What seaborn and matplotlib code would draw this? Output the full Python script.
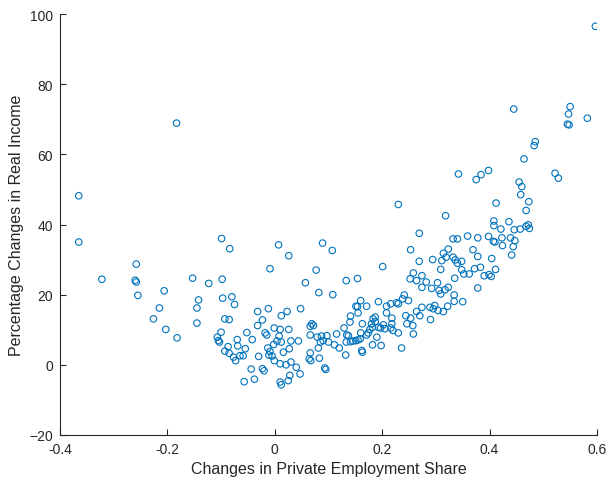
import numpy as np
import pandas as pd
import matplotlib
matplotlib.use("Agg")
import matplotlib.pyplot as plt
import seaborn as sns

# ============================================================
# DATA
# ============================================================

emp_share = [
    -0.365, -0.365, -0.322, -0.258, -0.260, -0.258, -0.255, -0.206, -0.153, -0.123,
    -0.099, -0.084, -0.098, -0.142, -0.097, -0.080, -0.075, -0.215, -0.145, -0.226,
    -0.145, -0.203, -0.182, -0.093, -0.085, -0.100, -0.107, -0.105, -0.103, -0.032,
    -0.032, -0.052, -0.070, -0.042, -0.069, -0.055, -0.087, -0.093, -0.085, -0.077,
    -0.073, -0.065, -0.059, -0.030, -0.044, -0.038, -0.057, -0.183,
    -0.023, -0.023, -0.020, -0.018, -0.015, -0.001, 0.010, 0.026, 0.008, 0.004,
    0.012, -0.002, -0.013, -0.009, -0.011, -0.005, -0.001, 0.016, 0.027, 0.030,
    0.044, 0.010, 0.021, 0.030, 0.040, 0.047, 0.028, 0.025, 0.010, 0.012,
    -0.012, 0.023, 0.048, 0.012, 0.007, 0.026, 0.089, 0.107, -0.009, 0.077,
    0.057, 0.082, 0.108, 0.069, 0.072, 0.066, 0.066, 0.079, 0.087, 0.097,
    0.090, 0.100, 0.085, 0.115, 0.111, 0.120, 0.081, 0.066, 0.067, 0.064,
    0.083, 0.093, 0.095,
    0.269, 0.253, 0.269, 0.294, 0.311, 0.319, 0.314, 0.323, 0.309, 0.201,
    0.133, 0.154, 0.258, 0.252, 0.264, 0.274, 0.282, 0.274, 0.292, 0.303,
    0.306, 0.309, 0.317, 0.323, 0.160, 0.151, 0.154, 0.171, 0.193, 0.208,
    0.216, 0.227, 0.230, 0.238, 0.241, 0.249, 0.264, 0.274, 0.289, 0.298,
    0.295, 0.304, 0.322, 0.270, 0.314, 0.141, 0.155, 0.208, 0.218, 0.244,
    0.253, 0.140, 0.163, 0.129, 0.132, 0.134, 0.137, 0.133, 0.141, 0.146,
    0.151, 0.155, 0.159, 0.160, 0.171, 0.174, 0.177, 0.182, 0.180, 0.187,
    0.183, 0.187, 0.193, 0.197, 0.202, 0.205, 0.190, 0.182, 0.198, 0.162,
    0.163, 0.218, 0.216, 0.220, 0.230, 0.246, 0.257, 0.258, 0.236, 0.290,
    0.485, 0.483, 0.464, 0.522, 0.528, 0.342, 0.384, 0.375, 0.398, 0.455,
    0.460, 0.458, 0.473, 0.468, 0.412, 0.318, 0.408, 0.408, 0.436, 0.421,
    0.446, 0.457, 0.468, 0.472, 0.474, 0.332, 0.340, 0.359, 0.378, 0.398,
    0.423, 0.439, 0.407, 0.410, 0.424, 0.447, 0.444, 0.441, 0.369, 0.378,
    0.404, 0.332, 0.336, 0.340, 0.348, 0.348, 0.352, 0.362, 0.372, 0.383,
    0.390, 0.399, 0.403, 0.411, 0.335, 0.378, 0.334, 0.334, 0.350, 0.230,
    0.597, 0.445, 0.550, 0.547, 0.582, 0.545, 0.548,
]

real_income = [
    48.2, 35.0, 24.4, 28.7, 24.1, 23.6, 19.8, 21.1, 24.7, 23.2,
    36.0, 33.1, 24.4, 18.5, 19.0, 19.4, 17.2, 16.2, 16.2, 13.1,
    11.9, 10.1, 7.7, 13.1, 12.9, 9.3, 7.9, 6.9, 6.5, 15.2,
    11.2, 9.2, 7.2, 7.2, 5.4, 4.6, 5.2, 3.9, 3.3, 2.2,
    1.2, 2.6, 2.6, 2.4, -1.2, -4.1, -4.8, 68.9,
    12.8, -1.1, -1.7, 9.1, 8.5, 10.5, 10.1, 10.1, 8.2, 6.8,
    6.5, 5.8, 4.8, 3.8, 2.8, 2.5, 1.2, 3.6, 4.6, 6.8,
    6.8, 0.3, 0.0, 0.8, -0.7, -2.6, -3.0, -4.5, -4.9, -5.7,
    16.0, 15.2, 16.0, 14.0, 34.2, 31.1, 34.7, 32.6, 27.4, 27.0,
    23.4, 20.6, 20.0, 11.7, 11.2, 11.0, 8.5, 7.9, 8.2, 8.3,
    6.9, 6.5, 6.5, 8.8, 5.7, 4.8, 4.8, 3.4, 1.2, 1.7,
    1.9, -0.9, -1.3,
    37.5, 32.8, 29.5, 30.0, 29.7, 30.7, 31.8, 33.0, 27.2, 28.0,
    24.0, 24.6, 26.2, 24.5, 24.0, 25.4, 23.6, 22.1, 21.8, 23.4,
    21.2, 20.2, 21.4, 22.1, 18.3, 16.7, 16.6, 16.7, 18.0, 16.7,
    17.4, 17.7, 17.4, 18.8, 19.9, 18.3, 15.2, 16.4, 16.4, 16.9,
    16.0, 15.5, 16.7, 14.0, 15.2, 13.9, 14.8, 14.8, 13.3, 14.0,
    13.3, 12.2, 11.7, 10.5, 2.8, 8.5, 8.3, 6.5, 6.6, 6.8,
    6.9, 7.1, 7.4, 9.1, 8.5, 9.1, 10.1, 10.7, 11.7, 12.3,
    13.1, 13.6, 10.7, 10.5, 11.4, 10.3, 7.9, 5.7, 5.5, 4.1,
    3.6, 11.7, 10.5, 9.8, 9.1, 11.7, 11.2, 8.8, 4.8, 12.9,
    63.6, 62.5, 58.7, 54.6, 53.2, 54.4, 54.2, 52.8, 55.4, 52.1,
    50.8, 48.5, 46.5, 44.0, 46.1, 42.5, 41.0, 39.7, 40.8, 38.7,
    38.5, 38.7, 39.5, 39.9, 38.9, 35.9, 35.9, 36.7, 36.2, 36.6,
    36.2, 36.2, 35.2, 35.0, 34.0, 35.4, 33.7, 31.3, 32.8, 30.9,
    30.3, 30.7, 29.9, 29.0, 29.5, 27.1, 25.9, 25.9, 27.4, 27.8,
    25.4, 25.7, 25.2, 27.2, 24.7, 21.9, 19.9, 18.1, 18.0, 45.7,
    96.5, 72.9, 73.6, 71.5, 70.3, 68.6, 68.4,
]

x_ticks = [-0.4, -0.2, 0, 0.2, 0.4, 0.6]
x_tick_labels = ["-0.4", "-0.2", "0", "0.2", "0.4", "0.6"]
y_ticks = [-20, 0, 20, 40, 60, 80, 100]

df = pd.DataFrame({"emp": emp_share, "inc": real_income})

# ============================================================
# PLOT
# ============================================================

sns.set_style("white")
plt.rcParams['font.family'] = ['Liberation Sans', 'DejaVu Sans']

fig = plt.figure(figsize=(6.08, 4.81), dpi=100)
ax = fig.add_axes([60 / 608, 45 / 481, 537 / 608, 421 / 481])

sns.scatterplot(data=df, x="emp", y="inc", ax=ax, marker="o", s=22,
                facecolor="none", edgecolor="#0072BD", linewidth=0.8)
for coll in ax.collections:
    coll.set_facecolor("none")
    coll.set_edgecolor("#0072BD")

ax.set_xlim(-0.4, 0.6)
ax.set_ylim(-20, 100)
ax.set_xticks(x_ticks)
ax.set_xticklabels(x_tick_labels)
ax.set_yticks(y_ticks)

ax.tick_params(direction="in", length=4, width=0.8, colors="#262626",
               labelsize=10, pad=5, bottom=True, left=True)
for side in ["top", "right"]:
    ax.spines[side].set_visible(False)
for side in ["left", "bottom"]:
    ax.spines[side].set_color("#262626")
    ax.spines[side].set_linewidth(0.8)

ax.set_xlabel("Changes in Private Employment Share", fontsize=11.5, color="#262626")
ax.set_ylabel("Percentage Changes in Real Income", fontsize=11.5, color="#262626")

fig.savefig("out.png", dpi=100)
